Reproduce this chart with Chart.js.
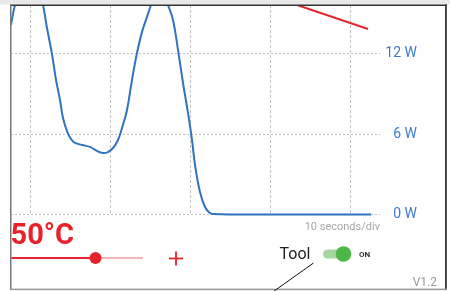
<!DOCTYPE html>
<html><head><meta charset="utf-8">
<script src="https://cdn.jsdelivr.net/npm/chart.js@4"></script>
<style>
html,body{margin:0;padding:0;background:#fff;width:450px;height:291px;overflow:hidden}
#wrap{position:relative;width:450px;height:291px}
#c{position:absolute;left:0;top:0}
#ov{position:absolute;left:0;top:0}
</style></head><body>
<div id="wrap">
<canvas id="c" width="450" height="291"></canvas>
<svg id="ov" width="450" height="291" xmlns="http://www.w3.org/2000/svg" font-family="Roboto, sans-serif">
  <rect x="0" y="0" width="450" height="4.5" fill="#e9e9e9"/>
  <rect x="10" y="4.5" width="437" height="1.5" fill="#333"/>
  <rect x="10" y="4.5" width="1.5" height="285.5" fill="#777"/>
  <rect x="445" y="4.5" width="1.8" height="285.5" fill="#333"/>
  <rect x="10" y="288.6" width="437" height="1.6" fill="#9a9a9a"/>
  <text x="10.5" y="244.3" font-size="29" font-weight="bold" fill="#e8222a">50°C</text>
  <line x1="11.5" y1="258" x2="96" y2="258" stroke="#e8222a" stroke-width="2"/>
  <line x1="96" y1="258" x2="143" y2="258" stroke="#f6b3b6" stroke-width="2"/>
  <circle cx="95.5" cy="258" r="6" fill="#e8222a"/>
  <line x1="169" y1="258.5" x2="183" y2="258.5" stroke="#e8222a" stroke-width="1.8"/>
  <line x1="176" y1="251.5" x2="176" y2="265.5" stroke="#e8222a" stroke-width="1.8"/>
  <text x="279.5" y="259" font-size="16" fill="#222">Tool</text>
  <rect x="323" y="249.5" width="26" height="9" rx="4.5" fill="#a6d7a1"/>
  <circle cx="343.5" cy="254" r="7.8" fill="#4cb847"/>
  <text x="359" y="257" font-size="8" font-weight="bold" fill="#333">ON</text>
  <line x1="313.5" y1="263" x2="273.5" y2="291.5" stroke="#111" stroke-width="1"/>
  <text x="437" y="286" font-size="12" fill="#9a9a9a" text-anchor="end">V1.2</text>
</svg>
</div>
<script>
// Power trace (seconds, watts)
const timeSeconds = [-2.375,-2.125,-1.875,-1.25,-0.125,1.0,1.625,2.125,2.75,3.25,3.75,4.125,4.625,5.125,5.625,6.5,7.5,8.375,9.125,9.75,10.375,11.0,11.5,12.125,12.75,13.375,14.0,14.625,15.125,15.625,16.25,16.875,17.25,17.875,18.5,19.125,19.75,20.25,20.625,21.25,21.875,22.5,23.0,25.0,30.0,35.0,40.0,42.625];
const powerWatts = [14.17,14.99,15.66,16.93,17.53,16.93,15.66,13.94,12.0,10.06,8.56,7.21,6.24,5.64,5.35,5.20,5.05,4.75,4.60,4.67,4.97,5.57,6.47,7.81,10.06,12.07,13.65,14.77,15.66,16.41,16.64,16.26,15.66,14.54,12.30,9.83,7.59,5.57,3.70,1.68,0.56,0.11,0.04,0,0,0,0,0];
// Temperature trend line (red)
const tempTime = [30.0, 42.25];
const tempValues = [16.34, 13.87];
// Axis ticks
const powerTicks = [0, 6, 12];
const timeGrid = [0, 10, 20, 30, 40];
const timeRange = [-2.375, 43.75];
const powerRange = [0, 15.66];
const xTitle = '10 seconds/div';

const toXY = (xs, ys) => xs.map((x, i) => ({x: x, y: ys[i]}));

new Chart(document.getElementById('c'), {
  type: 'line',
  data: {
    datasets: [
      {data: toXY(timeSeconds, powerWatts), borderColor: '#2f73c1', borderWidth: 2, pointRadius: 0,
       fill: false, tension: 0.4, clip: {left: 0, top: 0, right: 0, bottom: 3}},
      {data: toXY(tempTime, tempValues), borderColor: '#e8222a', borderWidth: 2, pointRadius: 0,
       fill: false, tension: 0, clip: {left: 0, top: 0, right: 0, bottom: 3}}
    ]
  },
  options: {
    responsive: false,
    animation: false,
    devicePixelRatio: 1,
    layout: {padding: {left: 11, top: 5, right: 33, bottom: 57.6}},
    plugins: {legend: {display: false}, tooltip: {enabled: false}},
    scales: {
      x: {
        type: 'linear', position: 'bottom', min: timeRange[0], max: timeRange[1],
        afterBuildTicks: s => { s.ticks = timeGrid.map(v => ({value: v})); },
        ticks: {display: false},
        grid: {color: '#c2c2c2', lineWidth: 1, drawTicks: false},
        border: {display: false, dash: [3, 2]},
        title: {display: true, text: xTitle, align: 'end', color: '#a8a8a8',
                font: {family: 'Roboto', size: 11}, padding: {top: 5.7, bottom: 0}}
      },
      y: {
        type: 'linear', position: 'right', min: powerRange[0], max: powerRange[1],
        afterBuildTicks: s => { s.ticks = powerTicks.map(v => ({value: v})); },
        afterFit: s => { s.width = 37; s.paddingTop = 0; s.paddingBottom = 0; },
        ticks: {color: '#3b7bc8', font: {family: 'Roboto', size: 14}, padding: 7, crossAlign: 'far',
                callback: v => v + ' W'},
        grid: {color: '#c2c2c2', lineWidth: 1, drawTicks: false},
        border: {display: false, dash: [2, 2]}
      }
    }
  }
});
</script>
</body></html>
